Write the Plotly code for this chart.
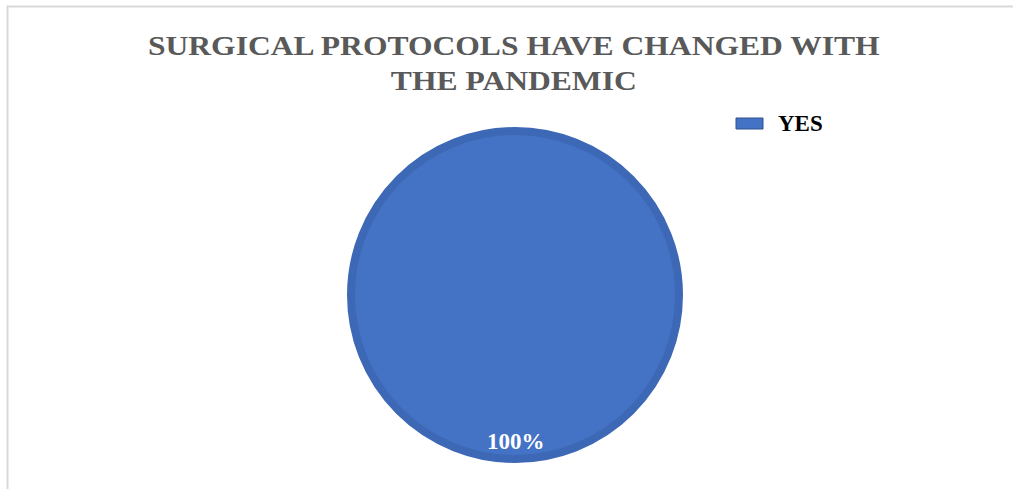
import plotly.graph_objects as go

# Survey answers
categories = ["YES"]
values = [100]
colors = ["#4472C4"]
title_text = "SURGICAL PROTOCOLS HAVE CHANGED WITH<br>THE PANDEMIC"

W, H = 1013, 489

def px_x(x):
    return x / W

def px_y(y):
    return 1 - y / H

total = sum(values)
pct_labels = [f"{round(v / total * 100)}%" for v in values]

fig = go.Figure(
    go.Pie(
        labels=categories,
        values=values,
        marker=dict(colors=colors, line=dict(color="#3D68B6", width=8)),
        textinfo="none",
        sort=False,
        direction="clockwise",
        hoverinfo="label+percent",
        domain=dict(x=[px_x(351), px_x(679)], y=[px_y(459), px_y(131)]),
        showlegend=False,
    )
)

# Title (annotation index 0)
fig.add_annotation(
    x=px_x(514), y=px_y(63), xref="paper", yref="paper",
    text=f"<b>{title_text}</b>",
    showarrow=False, align="center",
    font=dict(family="Liberation Serif", size=27, color="#595959"),
    xanchor="center", yanchor="middle",
)

# Percentage label near the bottom of the disc
for lab in pct_labels:
    fig.add_annotation(
        x=px_x(516), y=px_y(441), xref="paper", yref="paper",
        text=f"<b>{lab}</b>", showarrow=False,
        font=dict(family="Liberation Serif", size=23, color="white"),
        xanchor="center", yanchor="middle",
    )

# Legend: wide swatch + bold label per category
for i, (cat, col) in enumerate(zip(categories, colors)):
    y0 = 118 + i * 30
    fig.add_shape(type="rect", xref="paper", yref="paper",
                  x0=px_x(736), x1=px_x(763), y0=px_y(y0 + 11), y1=px_y(y0),
                  fillcolor=col, line=dict(color="#2F528F", width=1))
    fig.add_annotation(
        x=px_x(776), y=px_y(y0 + 5.5), xref="paper", yref="paper",
        text=f"<b>{cat}</b>", showarrow=False,
        font=dict(family="Liberation Serif", size=23, color="black"),
        xanchor="left", yanchor="middle",
    )

# Chart frame (left and top edges)
fig.add_shape(type="path", xref="paper", yref="paper",
              path=f"M {px_x(7.5)} 0 L {px_x(7.5)} {px_y(6.5)} L 1 {px_y(6.5)}",
              line=dict(color="#D9D9D9", width=2))

fig.update_layout(
    width=W, height=H,
    margin=dict(l=0, r=0, t=0, b=0),
    paper_bgcolor="white",
    plot_bgcolor="white",
    showlegend=False,
)

# Stretch the title horizontally about its own centre
post = """
var gd = document.getElementById('{plot_id}');
var t = gd.querySelector('.annotation[data-index="0"] text');
if (t) {
  var bb = t.getBBox();
  var cx = bb.x + bb.width / 2;
  t.setAttribute('transform',
    'translate(' + cx + ',0) scale(1.17,1) translate(' + (-cx) + ',0)');
}
"""

fig.write_html("out.html", post_script=post)
